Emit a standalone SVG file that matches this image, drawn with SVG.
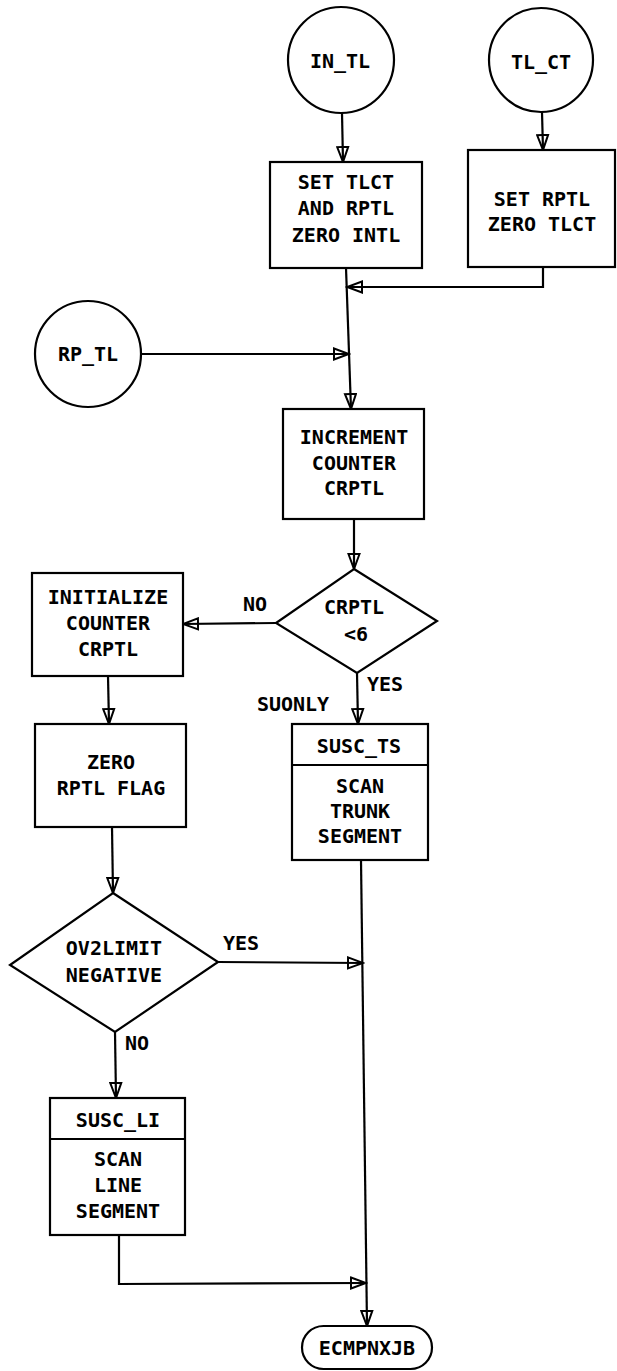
<svg xmlns="http://www.w3.org/2000/svg" width="617" height="1371" viewBox="0 0 617 1371">
  <defs>
    <marker id="arr" markerUnits="userSpaceOnUse" markerWidth="18" markerHeight="14" viewBox="-1 -7 18 14" refX="15" refY="0" orient="auto">
      <path d="M0,-5.5 L15,0 L0,5.5 Z" fill="none" stroke="#000" stroke-width="2" stroke-linejoin="miter"/>
    </marker>
  </defs>
  <style>
    .shape { fill: #fff; stroke: #000; stroke-width: 2.2; }
    .line { fill: none; stroke: #000; stroke-width: 2.2; }
    .arrow { fill: none; stroke: #000; stroke-width: 2.2; marker-end: url(#arr); }
    text { font-family: "DejaVu Sans Mono", "Liberation Mono", monospace; font-size: 20px; font-weight: bold; fill: #000; text-anchor: middle; }
  </style>

  <!-- connectors -->
  <g id="connectors">
    <line class="arrow" x1="342" y1="113" x2="343" y2="162"/>
    <line class="arrow" x1="542" y1="112" x2="543" y2="150"/>
    <polyline class="arrow" points="543,267 543,287 347,287"/>
    <line class="arrow" x1="141" y1="354" x2="349" y2="354"/>
    <line class="arrow" x1="346" y1="268" x2="351" y2="409"/>
    <line class="arrow" x1="354" y1="519" x2="354" y2="569"/>
    <line class="arrow" x1="276" y1="623" x2="183" y2="624"/>
    <line class="arrow" x1="357" y1="673" x2="358" y2="724"/>
    <line class="arrow" x1="108" y1="676" x2="109" y2="724"/>
    <line class="arrow" x1="112" y1="827" x2="113" y2="893"/>
    <line class="arrow" x1="115" y1="1032" x2="116" y2="1098"/>
    <line class="arrow" x1="218" y1="962" x2="363" y2="963"/>
    <polyline class="arrow" points="119,1235 119,1284 366,1283"/>
    <line class="arrow" x1="361" y1="860" x2="367" y2="1326"/>
  </g>

  <!-- connector labels -->
  <g id="labels">
    <text x="255" y="611">NO</text>
    <text x="385" y="691">YES</text>
    <text x="293" y="711">SUONLY</text>
    <text x="241" y="950">YES</text>
    <text x="137" y="1050">NO</text>
  </g>

  <g id="in_tl">
    <circle class="shape" cx="341" cy="60" r="53"/>
    <text x="340" y="68">IN_TL</text>
  </g>

  <g id="tl_ct">
    <circle class="shape" cx="541" cy="60" r="52"/>
    <text x="541" y="69">TL_CT</text>
  </g>

  <g id="set_tlct">
    <rect class="shape" x="270" y="162" width="152" height="106"/>
    <text x="346" y="189">SET TLCT</text>
    <text x="346" y="215">AND RPTL</text>
    <text x="346" y="242">ZERO INTL</text>
  </g>

  <g id="set_rptl">
    <rect class="shape" x="468" y="150" width="147" height="117"/>
    <text x="542" y="206">SET RPTL</text>
    <text x="542" y="231">ZERO TLCT</text>
  </g>

  <g id="rp_tl">
    <circle class="shape" cx="88" cy="354" r="53"/>
    <text x="88" y="361">RP_TL</text>
  </g>

  <g id="increment">
    <rect class="shape" x="283" y="409" width="141" height="110"/>
    <text x="354" y="444">INCREMENT</text>
    <text x="354" y="470">COUNTER</text>
    <text x="354" y="495">CRPTL</text>
  </g>

  <g id="crptl_test">
    <polygon class="shape" points="354,569 437,621 357,673 276,623"/>
    <text x="354" y="614">CRPTL</text>
    <text x="356" y="641">&lt;6</text>
  </g>

  <g id="initialize">
    <rect class="shape" x="32" y="573" width="151" height="103"/>
    <text x="108" y="604">INITIALIZE</text>
    <text x="108" y="630">COUNTER</text>
    <text x="108" y="656">CRPTL</text>
  </g>

  <g id="susc_ts">
    <rect class="shape" x="292" y="724" width="136" height="136"/>
    <line class="line" x1="292" y1="765" x2="428" y2="765"/>
    <text x="359" y="753">SUSC_TS</text>
    <text x="360" y="793">SCAN</text>
    <text x="360" y="818">TRUNK</text>
    <text x="360" y="843">SEGMENT</text>
  </g>

  <g id="zero_rptl">
    <rect class="shape" x="35" y="724" width="151" height="103"/>
    <text x="111" y="769">ZERO</text>
    <text x="111" y="795">RPTL FLAG</text>
  </g>

  <g id="ov2limit_test">
    <polygon class="shape" points="113,893 218,962 115,1032 10,965"/>
    <text x="114" y="955">OV2LIMIT</text>
    <text x="114" y="982">NEGATIVE</text>
  </g>

  <g id="susc_li">
    <rect class="shape" x="50" y="1098" width="135" height="137"/>
    <line class="line" x1="50" y1="1139" x2="185" y2="1139"/>
    <text x="118" y="1127">SUSC_LI</text>
    <text x="118" y="1166">SCAN</text>
    <text x="118" y="1192">LINE</text>
    <text x="118" y="1218">SEGMENT</text>
  </g>

  <g id="ecmpnxjb">
    <rect class="shape" x="302" y="1326" width="130" height="43" rx="21.5"/>
    <text x="367" y="1355">ECMPNXJB</text>
  </g>
</svg>
